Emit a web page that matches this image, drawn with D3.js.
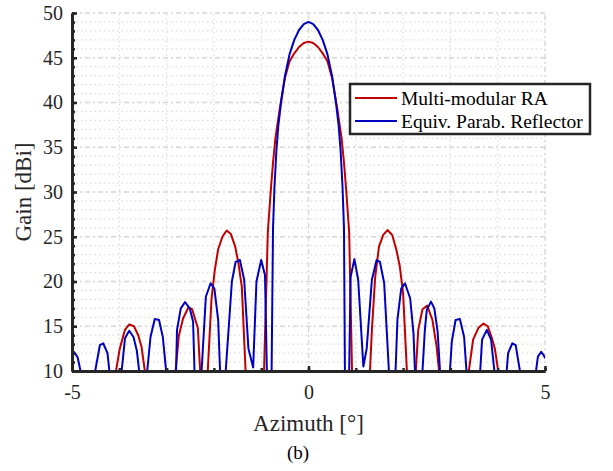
<!DOCTYPE html>
<html>
<head>
<meta charset="utf-8">
<script src="https://cdn.jsdelivr.net/npm/d3@7"></script>
<style>
  body { margin: 0; background: #fff; }
</style>
</head>
<body>
<div id="chart"></div>
<script>
// values (gain in dBi, azimuth in degrees)
const raAzimuth = [-5.00, -4.55, -4.07, -3.99, -3.88, -3.79, -3.69, -3.60, -3.53, -3.46, -3.15,
  -2.81, -2.74, -2.65, -2.54, -2.46, -2.34, -2.29, -2.21,
  -2.13, -2.05, -1.98, -1.91, -1.82, -1.73, -1.64, -1.55, -1.48, -1.41, -1.34, -1.33, -1.15,
  -0.94, -0.86, -0.80, -0.75, -0.70, -0.60, -0.50, -0.40, -0.30, -0.20, -0.10, 0.00,
  0.10, 0.20, 0.30, 0.40, 0.50, 0.60, 0.70, 0.75, 0.80, 0.86, 0.92, 1.12,
  1.30, 1.34, 1.41, 1.49, 1.58, 1.67, 1.77, 1.86, 1.93, 2.00, 2.08, 2.18,
  2.27, 2.32, 2.41, 2.51, 2.62, 2.71, 2.76, 3.05,
  3.39, 3.48, 3.59, 3.70, 3.79, 3.87, 3.94, 4.01, 4.50, 5.00];
const raGain = [4, 0, 10, 12.5, 14.6, 15.2, 15.0, 14.0, 12.7, 10, 0,
  10, 14.0, 15.9, 17.1, 16.9, 14.8, 10, 0,
  10, 18.1, 21.3, 23.6, 25.0, 25.7, 25.3, 23.9, 22.0, 19.4, 11.2, 10, 0,
  10, 25.5, 30.0, 33.3, 36.0, 39.6, 42.7, 44.6, 45.5, 46.2, 46.65, 46.8,
  46.65, 46.2, 45.5, 44.6, 42.7, 39.6, 36.0, 33.3, 30.0, 25.5, 10, 0,
  10, 14.6, 20.5, 23.9, 25.2, 25.75, 25.2, 23.5, 21.7, 18.7, 10, 0,
  10, 14.6, 16.9, 17.3, 15.7, 12.7, 10, 0,
  10, 13.5, 14.8, 15.3, 15.0, 13.8, 12.5, 10, 0, 4];

const refAzimuth = [-5.00, -4.95, -4.88, -4.82, -4.66,
  -4.51, -4.41, -4.34, -4.25, -4.21, -4.08,
  -3.95, -3.88, -3.79, -3.70, -3.63, -3.58, -3.50,
  -3.41, -3.34, -3.25, -3.16, -3.08, -3.01, -2.91,
  -2.80, -2.78, -2.70, -2.61, -2.51, -2.44, -2.41, -2.33,
  -2.26, -2.17, -2.07, -1.99, -1.91, -1.87, -1.81,
  -1.75, -1.62, -1.54, -1.45, -1.36, -1.27, -1.17, -1.10, -1.00, -0.92, -0.88, -0.83,
  -0.78, -0.75, -0.72, -0.68, -0.64, -0.58, -0.50, -0.40, -0.30, -0.20, -0.10, 0.00,
  0.10, 0.20, 0.30, 0.40, 0.50, 0.58, 0.64, 0.68, 0.72, 0.75, 0.77, 0.82,
  0.86, 0.89, 0.97, 1.05, 1.16, 1.23, 1.34, 1.44, 1.51, 1.60, 1.70, 1.77,
  1.84, 1.88, 1.96, 2.04, 2.15, 2.22, 2.25, 2.33,
  2.41, 2.46, 2.50, 2.59, 2.66, 2.73, 2.78, 2.89,
  2.99, 3.03, 3.11, 3.20, 3.29, 3.34, 3.48,
  3.63, 3.67, 3.77, 3.86, 3.93, 4.06,
  4.19, 4.22, 4.31, 4.38, 4.47, 4.64,
  4.81, 4.85, 4.92, 4.99, 5.00];
const refGain = [11.7, 12.1, 11.5, 10, 0,
  10, 12.9, 13.1, 12.0, 10, 0,
  10, 13.65, 14.5, 13.8, 12.3, 10, 0,
  10, 13.8, 15.8, 15.7, 13.8, 10, 0,
  10, 14.6, 17.0, 17.7, 17.0, 15.5, 10, 0,
  10, 18.3, 19.8, 19.2, 15.7, 10, 0,
  10, 20.0, 22.2, 22.4, 20.2, 12.5, 10.4, 20.0, 22.4, 20.7, 10, 0,
  10, 26.0, 30.5, 34.5, 37.3, 40.0, 42.9, 45.4, 47.0, 48.1, 48.75, 49.0,
  48.75, 48.1, 47.0, 45.4, 42.9, 40.0, 37.3, 34.5, 30.5, 26.0, 10, 0,
  10, 20.5, 22.5, 20.2, 10.5, 12.5, 20.2, 22.4, 22.2, 19.8, 10, 0,
  10, 15.7, 19.2, 19.8, 18.1, 14.2, 10, 0,
  10, 14.6, 16.8, 17.75, 17.0, 14.4, 10, 0,
  10, 13.3, 15.7, 15.8, 13.8, 10, 0,
  10, 13.5, 14.6, 13.5, 10, 0,
  10, 12.0, 13.1, 12.9, 10, 0,
  10, 11.6, 12.15, 11.6, 11.4];

const seriesNames = ["Multi-modular RA", "Equiv. Parab. Reflector"];
const seriesColors = ["#c00000", "#0000c0"];
const xTicks = [-5, 0, 5];
const yTicks = [10, 15, 20, 25, 30, 35, 40, 45, 50];

const width = 613, height = 471;
const margin = { left: 72, right: 68, top: 13, bottom: 100 };
const serif = "Liberation Serif, Times New Roman, serif";

const svg = d3.select("#chart").append("svg")
  .attr("width", width)
  .attr("height", height);

const x = d3.scaleLinear().domain([-5, 5]).range([margin.left, width - margin.right]);
const y = d3.scaleLinear().domain([10, 50]).range([height - margin.bottom, margin.top]);

const minorX = d3.range(-5, 5.01, 1);
const minorY = d3.range(10, 50.01, 1);

// grid: minor dotted, major dashed
const grid = svg.append("g");
grid.selectAll(".mx").data(minorX.filter(v => !xTicks.includes(v))).enter().append("line")
  .attr("x1", d => x(d)).attr("x2", d => x(d))
  .attr("y1", y(10)).attr("y2", y(50))
  .attr("stroke", "#dcdcdc").attr("stroke-width", 1.2).attr("stroke-dasharray", "1.5,3");
grid.selectAll(".my").data(minorY.filter(v => !yTicks.includes(v))).enter().append("line")
  .attr("x1", x(-5)).attr("x2", x(5))
  .attr("y1", d => y(d)).attr("y2", d => y(d))
  .attr("stroke", "#dcdcdc").attr("stroke-width", 1.2).attr("stroke-dasharray", "1.5,3");
grid.selectAll(".Mx").data(xTicks).enter().append("line")
  .attr("x1", d => x(d)).attr("x2", d => x(d))
  .attr("y1", y(10)).attr("y2", y(50))
  .attr("stroke", "#d6d6d6").attr("stroke-width", 1.4).attr("stroke-dasharray", "5,3,2,3");
grid.selectAll(".My").data(yTicks).enter().append("line")
  .attr("x1", x(-5)).attr("x2", x(5))
  .attr("y1", d => y(d)).attr("y2", d => y(d))
  .attr("stroke", "#d6d6d6").attr("stroke-width", 1.4).attr("stroke-dasharray", "5,3,2,3");

svg.append("clipPath").attr("id", "plot")
  .append("rect")
  .attr("x", x(-5)).attr("y", y(50) - 5)
  .attr("width", x(5) - x(-5)).attr("height", y(10) - y(50) + 5);

const line = d3.line()
  .x(d => x(d[0]))
  .y(d => y(d[1]));

const series = [
  d3.zip(raAzimuth, raGain),
  d3.zip(refAzimuth, refGain)
];

svg.append("g").attr("clip-path", "url(#plot)")
  .selectAll("path")
  .data(series)
  .enter().append("path")
  .attr("d", line)
  .attr("fill", "none")
  .attr("stroke", (d, i) => seriesColors[i])
  .attr("stroke-width", 2)
  .attr("stroke-linejoin", "round");

// axes
const xAxis = svg.append("g")
  .attr("transform", `translate(0,${y(10)})`)
  .call(d3.axisBottom(x).tickValues(minorX).tickSize(-3).tickSizeOuter(0).tickFormat(""));
xAxis.append("g").call(d3.axisBottom(x).tickValues(xTicks).tickSize(-5).tickSizeOuter(0)
    .tickPadding(14).tickFormat(d => String(d)));

const yAxis = svg.append("g")
  .attr("transform", `translate(${x(-5)},0)`)
  .call(d3.axisLeft(y).tickValues(minorY).tickSize(-3).tickSizeOuter(0).tickFormat(""));
yAxis.append("g").call(d3.axisLeft(y).tickValues(yTicks).tickSize(-5).tickSizeOuter(0)
    .tickPadding(9));

svg.selectAll(".domain").attr("stroke", "#262626").attr("stroke-width", 3);
svg.selectAll(".tick line").attr("stroke", "#262626").attr("stroke-width", 2.5);
xAxis.attr("font-family", serif).attr("font-size", 20);
xAxis.selectAll("g").attr("font-family", serif).attr("font-size", 20);
yAxis.attr("font-family", serif).attr("font-size", 20);
yAxis.selectAll("g").attr("font-family", serif).attr("font-size", 20);
svg.selectAll(".tick text").attr("fill", "#262626");

// labels
svg.append("text")
  .attr("x", x(0)).attr("y", 431)
  .attr("text-anchor", "middle")
  .attr("font-family", serif)
  .attr("font-size", 23)
  .attr("fill", "#262626")
  .text("Azimuth [°]");

svg.append("text")
  .attr("transform", `translate(31,${(y(10) + y(50)) / 2}) rotate(-90)`)
  .attr("text-anchor", "middle")
  .attr("font-family", serif)
  .attr("font-size", 23)
  .attr("fill", "#262626")
  .text("Gain [dBi]");

svg.append("text")
  .attr("x", 298).attr("y", 459)
  .attr("text-anchor", "middle")
  .attr("font-family", serif)
  .attr("font-size", 19)
  .attr("fill", "#000")
  .text("(b)");

// legend
const legend = svg.append("g").attr("transform", "translate(350,84)");
legend.append("rect")
  .attr("width", 240).attr("height", 50)
  .attr("fill", "#fff").attr("stroke", "#262626").attr("stroke-width", 2.5);
const item = legend.selectAll(".item").data(seriesNames).enter().append("g")
  .attr("transform", (d, i) => `translate(0,${14 + i * 23})`);
item.append("line")
  .attr("x1", 5).attr("x2", 47)
  .attr("stroke", (d, i) => seriesColors[i]).attr("stroke-width", 2);
item.append("text")
  .attr("x", 51).attr("y", 6.5)
  .attr("font-family", serif)
  .attr("font-size", 19.5)
  .attr("fill", "#000")
  .text(d => d);
</script>
</body>
</html>
